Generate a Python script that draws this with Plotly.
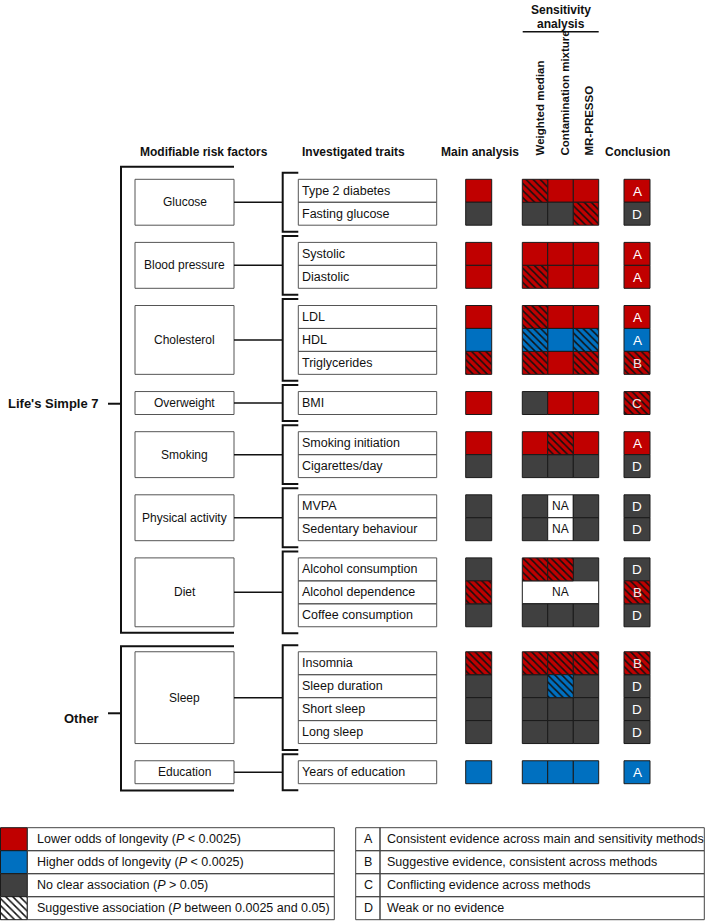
import plotly.graph_objects as go

# ---- data ----
groups = ["Glucose", "Blood pressure", "Cholesterol", "Overweight", "Smoking",
          "Physical activity", "Diet", "Sleep", "Education"]
group_sizes = [2, 2, 3, 1, 2, 2, 3, 4, 1]
sections = ["Life's Simple 7", "Other"]
section_groups = [7, 2]

traits = ["Type 2 diabetes", "Fasting glucose", "Systolic", "Diastolic", "LDL", "HDL",
          "Triglycerides", "BMI", "Smoking initiation", "Cigarettes/day", "MVPA",
          "Sedentary behaviour", "Alcohol consumption", "Alcohol dependence",
          "Coffee consumption", "Insomnia", "Sleep duration", "Short sleep",
          "Long sleep", "Years of education"]
# R red, B blue, G grey, lower case = hatched (suggestive), N = not available
main = ["R", "G", "R", "R", "R", "B", "r", "R", "R", "G", "G", "G", "G", "r", "G", "r", "G", "G", "G", "B"]
weighted_median = ["r", "G", "R", "r", "r", "b", "r", "G", "R", "G", "G", "G", "r", "N", "G", "r", "G", "G", "G", "B"]
contamination = ["R", "G", "R", "R", "R", "B", "R", "R", "r", "G", "N", "N", "r", "N", "G", "r", "b", "G", "G", "B"]
mr_presso = ["R", "r", "R", "R", "R", "b", "r", "R", "R", "G", "G", "G", "G", "N", "G", "r", "G", "G", "G", "B"]
conclusion = ["A", "D", "A", "A", "A", "A", "B", "C", "A", "D", "D", "D", "D", "B", "D", "B", "D", "D", "D", "A"]
conclusion_fill = ["R", "G", "R", "R", "R", "B", "r", "r", "R", "G", "G", "G", "G", "r", "G", "r", "G", "G", "G", "B"]

legend_codes = ["R", "B", "G", "w"]
legend_labels = ["Lower odds of longevity (<i>P</i> &lt; 0.0025)",
                 "Higher odds of longevity (<i>P</i> &lt; 0.0025)",
                 "No clear association (<i>P</i> &gt; 0.05)",
                 "Suggestive association (<i>P</i> between 0.0025 and 0.05)"]
letters = ["A", "B", "C", "D"]
letter_labels = ["Consistent evidence across main and sensitivity methods",
                 "Suggestive evidence, consistent across methods",
                 "Conflicting evidence across methods",
                 "Weak or no evidence"]

# ---- styling / layout constants ----
COL = {"R": "#C00000", "B": "#0070C0", "G": "#404040", "N": "white", "W": "white"}
FONT = "Liberation Sans, Arial, sans-serif"
H = 22.95
GAP = 17.2
SEC_GAP = 25
Y0 = 179.3

# row tops
row_top = []
group_top, group_bot = [], []
y = Y0
gi = 0
for s, ng in enumerate(section_groups):
    if s > 0:
        y += SEC_GAP
    for k in range(ng):
        if k > 0:
            y += GAP
        group_top.append(y)
        for r in range(group_sizes[gi]):
            row_top.append(y)
            y += H
        group_bot.append(y)
        gi += 1

shapes, annots = [], []
cells = {}  # code -> lists of x, width, base, height


def cell(x0, x1, y0, y1, code):
    d = cells.setdefault(code if code.islower() else "solid", dict(x=[], w=[], b=[], h=[], c=[]))
    d["x"].append((x0 + x1) / 2)
    d["w"].append(x1 - x0)
    d["b"].append(y0)
    d["h"].append(y1 - y0)
    d["c"].append(COL[code.upper()])


def text(x, y, t, size=12, bold=False, xa="center", color="#111", angle=0, ya="middle"):
    annots.append(dict(x=x, y=y, xref="x", yref="y", text=f"<b>{t}</b>" if bold else t,
                       showarrow=False, xanchor=xa, yanchor=ya, textangle=angle,
                       font=dict(family=FONT, size=size, color=color)))


def line(x0, y0, x1, y1, w=1.5, c="#111"):
    shapes.append(dict(type="line", xref="x", yref="y", x0=x0, y0=y0, x1=x1, y1=y1,
                       line=dict(color=c, width=w)))


# risk factor boxes, connectors, brackets
RX0, RX1 = 135, 234
TX0, TX1 = 298.3, 436.7
BRX = 282.7
for g, name in enumerate(groups):
    t, b = group_top[g], group_bot[g]
    shapes.append(dict(type="rect", xref="x", yref="y", x0=RX0, x1=RX1, y0=t, y1=b,
                       line=dict(color="#555", width=1), fillcolor="white"))
    text((RX0 + RX1) / 2, (t + b) / 2, name)
    line(RX1, (t + b) / 2, BRX, (t + b) / 2)
    shapes.append(dict(type="path", xref="x", yref="y",
                       path=f"M {TX0},{t-6.5} L {BRX},{t-6.5} L {BRX},{b+6.5} L {TX0},{b+6.5}",
                       line=dict(color="#111", width=2)))

# section brackets
gi = 0
for s, ng in enumerate(section_groups):
    t = group_top[gi] - (12.6 if s == 0 else 5.6)
    b = group_bot[gi + ng - 1] + (6 if s == 0 else 6.7)
    shapes.append(dict(type="path", xref="x", yref="y",
                       path=f"M {RX1},{t} L 121,{t} L 121,{b} L {RX1},{b}",
                       line=dict(color="#111", width=2)))
    mid = (t + b) / 2 + (4 if s == 0 else -5)
    line(108, mid, 121, mid, w=2)
    text(101, mid + (0 if s == 0 else 5), sections[s], size=13, bold=True, xa="right")
    gi += ng

# trait boxes
for i, tr in enumerate(traits):
    shapes.append(dict(type="rect", xref="x", yref="y", x0=TX0, x1=TX1,
                       y0=row_top[i], y1=row_top[i] + H, line=dict(color="#555", width=1)))
    text(TX0 + 2, row_top[i] + H / 2, tr, size=12.5, xa="left")

# result cells
MX = (465.7, 491.7)
SX = [522.3, 547.7, 573.3, 598.7]
CX = (624, 650)
for i in range(len(traits)):
    y0, y1 = row_top[i], row_top[i] + H
    cell(MX[0], MX[1], y0, y1, main[i])
    sens = [weighted_median[i], contamination[i], mr_presso[i]]
    if all(c == "N" for c in sens):
        cell(SX[0], SX[3], y0, y1, "N")
        text((SX[0] + SX[3]) / 2, (y0 + y1) / 2, "NA")
    else:
        for j, c in enumerate(sens):
            cell(SX[j], SX[j + 1], y0, y1, c)
            if c == "N":
                text((SX[j] + SX[j + 1]) / 2, (y0 + y1) / 2, "NA")
    cell(CX[0], CX[1], y0, y1, conclusion_fill[i])
    lc = "white" if conclusion_fill[i].isupper() else "#f4e4e4"
    text((CX[0] + CX[1]) / 2, (y0 + y1) / 2 + 0.5, conclusion[i], size=13.5, color=lc)

# legends
LY = 827.7
LH = 23.0
for k in range(4):
    y0 = LY + k * LH
    cell(0.5, 27.3, y0, y0 + LH, legend_codes[k])
    shapes.append(dict(type="rect", xref="x", yref="y", x0=27.3, x1=334.3, y0=y0, y1=y0 + LH,
                       line=dict(color="#444", width=1)))
    text(35, y0 + LH / 2, legend_labels[k], size=12.5, xa="left")
    shapes.append(dict(type="rect", xref="x", yref="y", x0=355.7, x1=380, y0=y0, y1=y0 + LH,
                       line=dict(color="#444", width=1)))
    shapes.append(dict(type="rect", xref="x", yref="y", x0=380, x1=704.3, y0=y0, y1=y0 + LH,
                       line=dict(color="#444", width=1)))
    text(368, y0 + LH / 2, letters[k], size=12.5)
    text(385, y0 + LH / 2, letter_labels[k], size=12.5, xa="left")

# headers
text(204, 152, "Modifiable risk factors", bold=True)
text(300, 152, "Investigated traits", bold=True, xa="left")
text(479.5, 152, "Main analysis", bold=True)
text(637, 152, "Conclusion", bold=True)
text(539, 158, "Weighted median", size=11.5, bold=True, angle=-90, ya="bottom")
text(564, 158, "Contamination mixture", size=11.5, bold=True, angle=-90, ya="bottom")
text(588.5, 158, "MR-PRESSO", size=11.5, bold=True, angle=-90, ya="bottom")
text(560.5, 10, "Sensitivity", bold=True)
text(560.5, 23.5, "analysis", bold=True)
line(522.7, 31.7, 598.7, 31.7, w=1.5)

fig = go.Figure()
for code, d in cells.items():
    if code == "solid":
        pat = dict(shape="")
    else:
        pat = dict(shape="\\", fgcolor="#111111", bgcolor=COL[code.upper()],
                   size=5, solidity=0.3, fillmode="replace")
    fig.add_bar(x=d["x"], y=d["h"], base=d["b"], width=d["w"], hoverinfo="skip",
                showlegend=False,
                marker=dict(color=d["c"] if code == "solid" else COL[code.upper()],
                            line=dict(color="#1a1a1a", width=1), pattern=pat))
fig.update_layout(
    width=709, height=921, margin=dict(l=0, r=0, t=0, b=0),
    paper_bgcolor="white", plot_bgcolor="white", barmode="overlay",
    xaxis=dict(range=[0, 709], visible=False, fixedrange=True),
    yaxis=dict(range=[921, 0], visible=False, fixedrange=True),
    shapes=shapes, annotations=annots,
)
fig.write_html("out.html", config={"displayModeBar": False},
               post_script="document.body.style.margin='0px';")
